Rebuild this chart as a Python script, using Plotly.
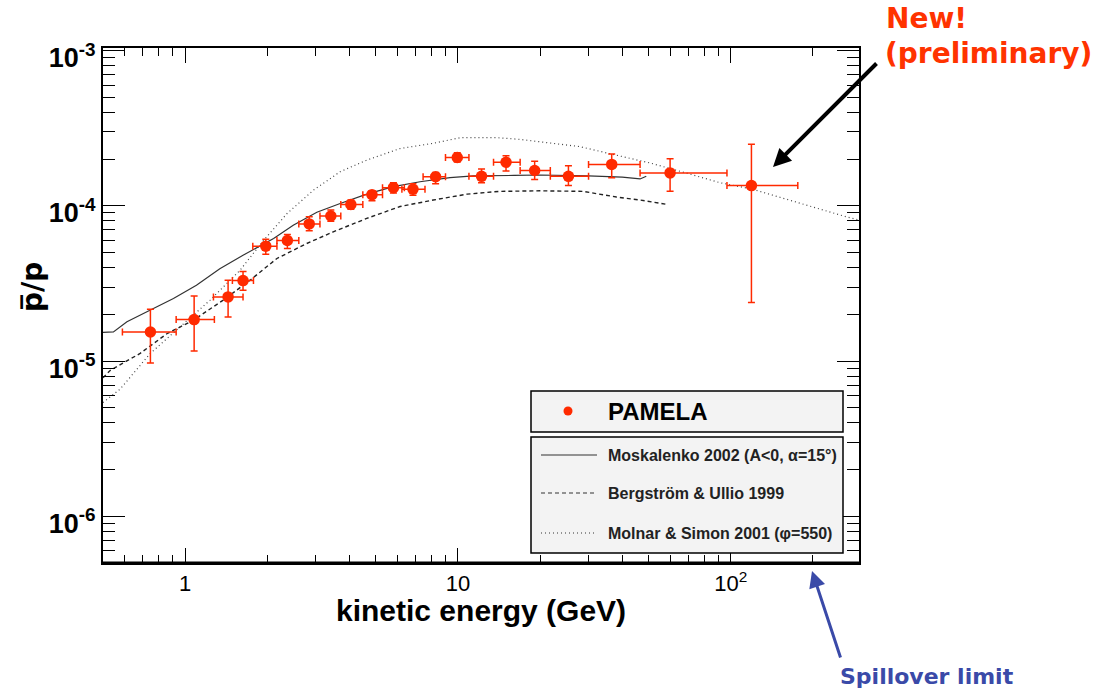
import math
import plotly.graph_objects as go

# ---------------- data ----------------
E = [0.746, 1.079, 1.437, 1.63, 1.975, 2.37, 2.85, 3.42, 4.05, 4.84, 5.8, 6.84, 8.28,
     9.94, 12.2, 15.0, 19.1, 25.4, 36.6, 59.9, 119]
E_lo = [0.589, 0.927, 1.27, 1.49, 1.77, 2.17, 2.61, 3.12, 3.72, 4.48, 5.29, 6.23, 7.45,
        9.0, 10.97, 13.5, 16.9, 21.8, 30.1, 46.5, 96.8]
E_hi = [0.927, 1.28, 1.63, 1.78, 2.17, 2.61, 3.12, 3.72, 4.48, 5.29, 6.36, 7.57, 9.0,
        10.97, 13.5, 16.9, 21.8, 30.1, 46.5, 96.8, 176]
R = [1.54e-5, 1.85e-5, 2.59e-5, 3.30e-5, 5.5e-5, 5.98e-5, 7.65e-5, 8.6e-5, 1.02e-4, 1.18e-4,
     1.31e-4, 1.28e-4, 1.54e-4, 2.05e-4, 1.55e-4, 1.91e-4, 1.69e-4, 1.55e-4, 1.85e-4, 1.63e-4, 1.35e-4]
R_hi = [2.16e-5, 2.63e-5, 3.32e-5, 3.78e-5, 6.1e-5, 6.53e-5, 8.5e-5, 9.4e-5, 1.09e-4, 1.25e-4,
        1.41e-4, 1.39e-4, 1.64e-4, 2.2e-4, 1.73e-4, 2.1e-4, 1.94e-4, 1.81e-4, 2.16e-4, 2.01e-4, 2.49e-4]
R_lo = [9.7e-6, 1.16e-5, 1.92e-5, 2.86e-5, 4.88e-5, 5.31e-5, 6.9e-5, 7.97e-5, 9.5e-5, 1.08e-4,
        1.21e-4, 1.17e-4, 1.39e-4, 1.92e-4, 1.41e-4, 1.68e-4, 1.48e-4, 1.35e-4, 1.52e-4, 1.24e-4, 2.38e-5]

mosk_E = [0.5, 0.546, 0.612, 0.745, 0.906, 1.10, 1.34, 1.63, 2.11, 2.49, 3.04, 3.70, 4.63, 5.8,
          7.26, 9.35, 11.4, 16.0, 20.0, 30.0, 40.0, 46.5, 49.0]
mosk_R = [1.53e-5, 1.54e-5, 1.79e-5, 2.12e-5, 2.53e-5, 3.08e-5, 3.94e-5, 4.81e-5, 6.16e-5, 7.5e-5,
          9.1e-5, 1.035e-4, 1.19e-4, 1.33e-4, 1.43e-4, 1.52e-4, 1.56e-4, 1.57e-4, 1.58e-4, 1.56e-4,
          1.53e-4, 1.49e-4, 1.55e-4]

berg_E = [0.5, 0.531, 0.684, 0.857, 1.07, 1.38, 1.73, 2.17, 2.79, 3.49, 4.63, 6.13, 8.12, 10.8,
          14.2, 20.0, 28.7, 38.1, 46.5, 58.9]
berg_R = [7.8e-6, 8.7e-6, 1.12e-5, 1.50e-5, 1.83e-5, 2.47e-5, 3.32e-5, 4.58e-5, 5.72e-5, 6.8e-5,
          8.3e-5, 9.9e-5, 1.09e-4, 1.19e-4, 1.24e-4, 1.25e-4, 1.24e-4, 1.14e-4, 1.09e-4, 1.02e-4]

moln_E = [0.5, 0.578, 0.745, 0.958, 1.235, 1.59, 1.94, 2.36, 2.95, 3.70, 4.63, 6.13, 8.12, 10.2,
          13.9, 16.9, 21.7, 27.9, 38.1, 50.5, 68.4, 91.2, 120, 179, 265, 295]
moln_R = [5.4e-6, 6.6e-6, 1.12e-5, 1.66e-5, 2.47e-5, 3.85e-5, 6.0e-5, 8.9e-5, 1.26e-4, 1.66e-4,
          1.97e-4, 2.34e-4, 2.53e-4, 2.75e-4, 2.75e-4, 2.68e-4, 2.53e-4, 2.41e-4, 2.12e-4, 1.89e-4,
          1.63e-4, 1.41e-4, 1.28e-4, 1.035e-4, 8.5e-5, 8.1e-5]

x_ticks = [1, 10, 100]
x_ticktext = ["1", "10", "10<sup>2</sup>"]
x_minor = [0.6, 0.7, 0.8, 0.9, 2, 3, 4, 5, 6, 7, 8, 9, 20, 30, 40, 50, 60, 70, 80, 90, 200]
y_ticks = [1e-6, 1e-5, 1e-4, 1e-3]
y_ticktext = ["<b>10<sup>-6</sup></b>", "<b>10<sup>-5</sup></b>",
              "<b>10<sup>-4</sup></b>", "<b>10<sup>-3</sup></b>"]
y_minor = [k * 10.0 ** n for n in (-7, -6, -5, -4) for k in range(2, 10)]

legend_labels = ["PAMELA", "Moskalenko 2002 (A<0, α=15°)", "Bergström & Ullio 1999",
                 "Molnar & Simon 2001 (φ=550)"]

# ---------------- layout geometry ----------------
W, H = 1113, 692
L, Rr, T, B = 103, 254, 48, 129
PW, PH = W - L - Rr, H - T - B


def px(x):
    return (x - L) / PW


def py(y):
    return (H - B - y) / PH


RED = "#ff2a00"
BLUE = "#3a4aa8"

fig = go.Figure()

fig.add_trace(go.Scatter(x=mosk_E, y=mosk_R, mode="lines",
                         line=dict(color="#333333", width=1.2), showlegend=False))
fig.add_trace(go.Scatter(x=berg_E, y=berg_R, mode="lines",
                         line=dict(color="#222222", width=1.4, dash="4px,3px"), showlegend=False))
fig.add_trace(go.Scatter(x=moln_E, y=moln_R, mode="lines",
                         line=dict(color="#444444", width=1.2, dash="1px,3px"), showlegend=False))

fig.add_trace(go.Scatter(
    x=E, y=R, mode="markers",
    marker=dict(color=RED, size=11.5),
    error_x=dict(type="data", symmetric=False,
                 array=[h - e for h, e in zip(E_hi, E)],
                 arrayminus=[e - l for e, l in zip(E, E_lo)],
                 color=RED, thickness=1.5, width=3.5),
    error_y=dict(type="data", symmetric=False,
                 array=[h - r for h, r in zip(R_hi, R)],
                 arrayminus=[r - l for r, l in zip(R, R_lo)],
                 color=RED, thickness=1.5, width=3.5),
    showlegend=False))

fig.update_xaxes(type="log", range=[math.log10(0.5), math.log10(295)],
                 showgrid=False, zeroline=False,
                 showline=True, linecolor="black", linewidth=2, mirror="ticks",
                 ticks="inside", ticklen=15, tickwidth=1.3, tickcolor="black",
                 tickvals=x_ticks, ticktext=x_ticktext,
                 tickfont=dict(family="Liberation Sans, Arial", size=22, color="black"),
                 minor=dict(tickvals=x_minor, ticks="inside", ticklen=8, tickwidth=1.2,
                            tickcolor="black"))
fig.update_yaxes(type="log", range=[math.log10(5e-7), -2.983],
                 showgrid=False, zeroline=False,
                 showline=True, linecolor="black", linewidth=2, mirror="ticks",
                 ticks="inside", ticklen=22, tickwidth=1.3, tickcolor="black",
                 tickvals=y_ticks, ticktext=y_ticktext, ticklabelshift=7,
                 tickfont=dict(family="Liberation Sans, Arial", size=27, color="black"),
                 minor=dict(tickvals=y_minor, ticks="inside", ticklen=12, tickwidth=1.2,
                            tickcolor="black"))

shapes = []
# bottom axis slightly heavier
shapes.append(dict(type="line", xref="paper", yref="paper", x0=0, x1=1, y0=0, y1=0,
                   line=dict(color="black", width=3)))
# legend boxes
shapes.append(dict(type="rect", xref="paper", yref="paper",
                   x0=px(531), x1=px(843), y0=py(432), y1=py(391),
                   fillcolor="#f3f3f3", line=dict(color="black", width=1.5)))
shapes.append(dict(type="rect", xref="paper", yref="paper",
                   x0=px(531), x1=px(843), y0=py(553), y1=py(437),
                   fillcolor="#f3f3f3", line=dict(color="black", width=1.5)))
shapes.append(dict(type="circle", xref="paper", yref="paper", xsizemode="pixel",
                   ysizemode="pixel", xanchor=px(568), yanchor=py(411),
                   x0=-4.5, x1=4.5, y0=-4.5, y1=4.5, fillcolor=RED, line=dict(width=0)))
legend_dash = ["solid", "4px,3px", "1px,3px"]
legend_y = [455, 493, 533]
for d, yy in zip(legend_dash, legend_y):
    shapes.append(dict(type="line", xref="paper", yref="paper",
                       x0=px(541), x1=px(597), y0=py(yy), y1=py(yy),
                       line=dict(color="#333333", width=1.2, dash=d)))

ann = []
ann.append(dict(text="<b>PAMELA</b>", x=px(606), y=py(411), xref="paper", yref="paper",
                xanchor="left", yanchor="middle", showarrow=False,
                font=dict(family="Liberation Sans, Arial", size=24, color="black")))
for lab, yy in zip(legend_labels[1:], legend_y):
    ann.append(dict(text="<b>" + lab + "</b>", x=px(606), y=py(yy), xref="paper", yref="paper",
                    xanchor="left", yanchor="middle", showarrow=False,
                    font=dict(family="Liberation Sans, Arial", size=16, color="#222222")))

# axis titles
ann.append(dict(text="<b>kinetic energy (GeV)</b>", x=px(481), y=py(610), xref="paper",
                yref="paper", xanchor="center", yanchor="middle", showarrow=False,
                font=dict(family="Liberation Sans, Arial", size=30, color="black")))
ann.append(dict(text="<b>p\u0305/p</b>", x=px(32), y=py(287), xref="paper", yref="paper",
                xanchor="center", yanchor="middle", showarrow=False, textangle=-90,
                font=dict(family="DejaVu Sans, Liberation Sans", size=28, color="black")))

# callouts
ann.append(dict(text="<b>New!</b>", x=px(884), y=py(19), xref="paper", yref="paper",
                xanchor="left", yanchor="middle", showarrow=False,
                font=dict(family="DejaVu Sans", size=28, color="#ff3300")))
ann.append(dict(text="<b>(preliminary)</b>", x=px(883), y=py(53), xref="paper", yref="paper",
                xanchor="left", yanchor="middle", showarrow=False,
                font=dict(family="DejaVu Sans", size=28, color="#ff3300")))
ann.append(dict(text="", x=px(773), y=py(167), xref="paper", yref="paper",
                showarrow=True, ax=105, ay=-105, arrowhead=2, arrowsize=0.9,
                arrowwidth=4, arrowcolor="black", standoff=0))
ann.append(dict(text="<b>Spillover limit</b>", x=px(838), y=py(676), xref="paper",
                yref="paper", xanchor="left", yanchor="middle", showarrow=False,
                font=dict(family="DejaVu Sans", size=22, color=BLUE)))
ann.append(dict(text="", x=px(812), y=py(571), xref="paper", yref="paper",
                showarrow=True, ax=29, ay=88, arrowhead=2, arrowsize=1.1,
                arrowwidth=3, arrowcolor=BLUE, standoff=0))

fig.update_layout(width=W, height=H, autosize=False,
                  margin=dict(l=L, r=Rr, t=T, b=B, pad=0),
                  plot_bgcolor="white", paper_bgcolor="white",
                  shapes=shapes, annotations=ann, showlegend=False)

fig.write_html("out.html")
